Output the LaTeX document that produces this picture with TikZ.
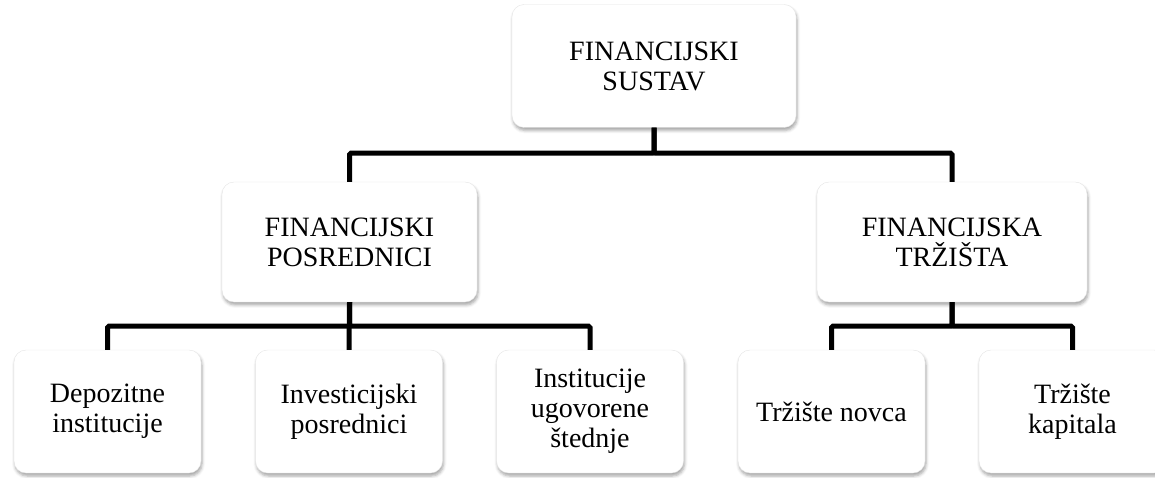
\documentclass[tikz,border=0pt]{standalone}
\usepackage{fontspec}
\setmainfont{Liberation Serif}
\usetikzlibrary{shadows.blur}
\tikzset{
  kutija/.style={rectangle, rounded corners=12pt, fill=white, draw=gray!20,
    blur shadow={shadow xshift=1pt, shadow yshift=-3pt, shadow blur radius=3pt, shadow opacity=35},
    align=center, inner sep=2pt, font=\fontsize{28}{30}\selectfont},
  veza/.style={line width=5pt, rounded corners=1.5pt}
}
\begin{document}
\begin{tikzpicture}[x=1pt, y=1pt]
      \useasboundingbox (0,0) rectangle (1155,477);
      \draw
        (654,411) node[kutija, minimum width=284pt, minimum height=123pt] (sustav){FINANCIJSKI\\SUSTAV}
        (349.5,235) node[kutija, minimum width=255pt, minimum height=120pt] (posrednici){FINANCIJSKI\\POSREDNICI}
        (952,235) node[kutija, minimum width=270pt, minimum height=120pt] (trzista){FINANCIJSKA\\TRŽIŠTA}
        (107.5,65.5) node[kutija, minimum width=187pt, minimum height=123pt] (depozitne){Depozitne\\institucije}
        (349,65.5) node[kutija, minimum width=187pt, minimum height=123pt] (investicijski){Investicijski\\posrednici}
        (590,65.5) node[kutija, minimum width=187pt, minimum height=123pt] (ugovorene){Institucije\\ugovorene\\štednje}
        (831.5,65.5) node[kutija, minimum width=187pt, minimum height=123pt] (novac){Tržište novca}
        (1072.5,65.5) node[kutija, minimum width=187pt, minimum height=123pt] (kapital){Tržište\\kapitala};
      \begin{scope}[veza]
        \draw (sustav.south) -- ++(0,-25.5) -| (posrednici.north);
        \draw (sustav.south) -- ++(0,-25.5) -| (trzista.north);
        \draw (posrednici.south) -- ++(0,-24) -| (depozitne.north);
        \draw (posrednici.south) -- (investicijski.north);
        \draw (posrednici.south) -- ++(0,-24) -| (ugovorene.north);
        \draw (trzista.south) -- ++(0,-24) -| (novac.north);
        \draw (trzista.south) -- ++(0,-24) -| (kapital.north);
      \end{scope}
    \end{tikzpicture}
\end{document}
